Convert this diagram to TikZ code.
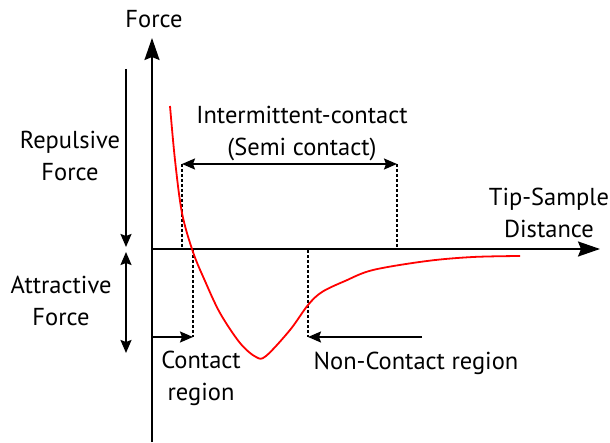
\documentclass[tikz,border=0pt]{standalone}
\usepackage{fontspec}
\setmainfont{PT Sans}
\usetikzlibrary{arrows.meta}
\begin{document}
\begin{tikzpicture}[x=1pt,y=-1pt,
 lbl/.style={font=\fontsize{24.5}{32}\selectfont, align=center, inner sep=0pt},
 axis/.style={line width=2pt, -{Stealth[length=22pt,width=15pt,inset=3pt]}},
 arr/.style={line width=1.8pt, -{Stealth[length=13pt,width=11pt,inset=2pt]}},
 darr/.style={line width=1.8pt, {Stealth[length=13pt,width=11pt,inset=2pt]}-{Stealth[length=13pt,width=11pt,inset=2pt]}},
 dot/.style={line width=1.4pt, dash pattern=on 3pt off 2pt},
 curve/.style={red, line width=1.8pt}]
\useasboundingbox (0,0) rectangle (610,443);
% axes
\coordinate (o) at (152,249);
\coordinate (ybot) at (152,442);
\coordinate (ytop) at (152,38);
\coordinate (xend) at (600,249);
\draw[line width=2pt] (ybot) -- (o);
\draw[axis] (o) -- (ytop);
\draw[axis] (o) -- (xend);
\node[lbl] (force) at (154,19) {Force};
\node[lbl] (tsd) at (549,213) {Tip-Sample\\Distance};
% left force arrows
\coordinate (r1) at (126,69);
\coordinate (r2) at (126,247);
\coordinate (a1) at (126,252);
\coordinate (a2) at (126,353);
\draw[arr] (r1) -- (r2);
\draw[darr] (a1) -- (a2);
\node[lbl] (rep) at (70,156) {Repulsive\\Force};
\node[lbl] (att) at (61,301) {Attractive\\Force};
% intermittent contact
\coordinate (i1) at (182,164);
\coordinate (i2) at (397,164);
\coordinate (i1b) at (182,249);
\coordinate (i2b) at (397,249);
\draw[darr] (i1) -- (i2);
\draw[dot] (i1) -- (i1b);
\draw[dot] (i2) -- (i2b);
\node[lbl] (ic) at (302,134) {Intermittent-contact\\(Semi contact)};
% contact / non-contact
\coordinate (c1) at (193,250);
\coordinate (c2) at (193,337);
\coordinate (n1) at (308,250);
\coordinate (n2) at (308,337);
\coordinate (cs) at (152,337);
\coordinate (ns) at (422,337);
\draw[dot] (c1) -- (c2);
\draw[dot] (n1) -- (n2);
\draw[arr] (cs) -- (c2);
\draw[arr] (ns) -- (n2);
\node[lbl] (cr) at (201,378) {Contact\\region};
\node[lbl] (ncr) at (416,363) {Non-Contact region};
% force curve
\draw[curve] plot[smooth, tension=0.55] coordinates {(170,106) (175,160) (182,213) (193,252) (205,281) (220,313) (240,343) (256,357) (266,356) (290,330) (308,305) (322,292) (345,281) (373,270) (427,261) (473,257) (520,256)};
\end{tikzpicture}
\end{document}
